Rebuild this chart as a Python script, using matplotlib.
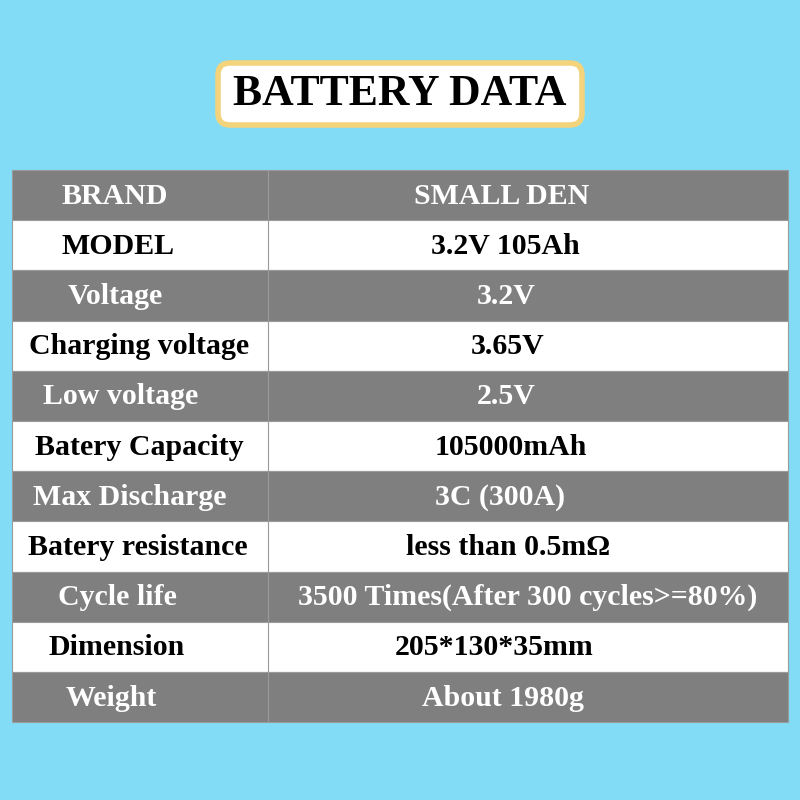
import matplotlib
matplotlib.use("Agg")
import matplotlib.pyplot as plt
from matplotlib.patches import Rectangle, FancyBboxPatch

title = "BATTERY DATA"
labels = ["BRAND", "MODEL", "Voltage", "Charging voltage", "Low voltage", "Batery Capacity",
          "Max Discharge", "Batery resistance", "Cycle life", "Dimension", "Weight"]
values = ["SMALL DEN", "3.2V 105Ah", "3.2V", "3.65V", "2.5V", "105000mAh", "3C (300A)",
          "less than 0.5mΩ", "3500 Times(After 300 cycles>=80%)", "205*130*35mm", "About 1980g"]
label_x = [115, 118, 115, 139, 121, 139, 130, 138, 117, 117, 111]
value_x = [502, 505, 506, 508, 506, 511, 500, 508, 528, 494, 503]

fig = plt.figure(figsize=(8, 8), dpi=100)
fig.patch.set_facecolor("#82dcf6")
ax = fig.add_axes([0, 0, 1, 1])
ax.set_xlim(0, 800); ax.set_ylim(800, 0); ax.axis("off")
font = dict(family="Liberation Serif", weight="bold")

ax.add_patch(FancyBboxPatch((218, 63), 364, 62, boxstyle="round,pad=0,rounding_size=12",
                            fc="white", ec="#f3d47c", lw=4))
ax.text(400, 94, title, ha="center", va="center", fontsize=31.5, color="black", **font)

top, rh, x0, x1, xm = 170, 50.2, 12, 788, 268
for i, (lab, val) in enumerate(zip(labels, values)):
    y = top + i * rh
    gray = i % 2 == 0
    ax.add_patch(Rectangle((x0, y), x1 - x0, rh, fc="#7f7f7f" if gray else "white",
                           ec="#9a9a9a", lw=0.8))
    ax.plot([xm, xm], [y, y + rh], color="#9a9a9a", lw=0.8)
    c = "white" if gray else "black"
    yc = y + rh / 2 + 1
    ax.text(label_x[i], yc, lab, ha="center", va="center", fontsize=21.5, color=c, **font)
    ax.text(value_x[i], yc, val, ha="center", va="center", fontsize=21.5, color=c, **font)

fig.savefig("out.png", dpi=100, facecolor=fig.get_facecolor())
